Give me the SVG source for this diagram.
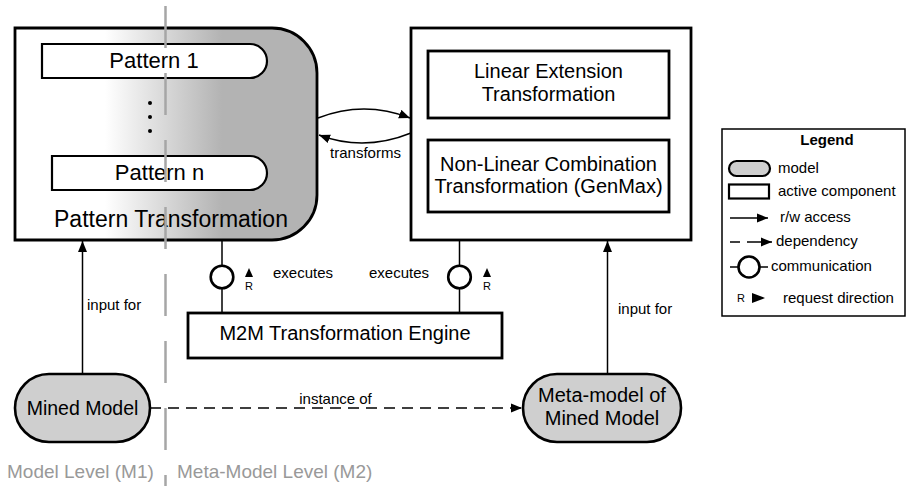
<svg xmlns="http://www.w3.org/2000/svg" width="916" height="486" viewBox="0 0 916 486">
  <style>
    text { font-family: "Liberation Sans", Arial, sans-serif; fill: #000; }
    .box { fill: #fff; stroke: #000; stroke-width: 2.8; }
    .pat { fill: #fff; stroke: #000; stroke-width: 2.2; }
    .model { fill: #cfcfcf; stroke: #000; stroke-width: 2.6; }
    .line { fill: none; stroke: #000; stroke-width: 1.5; }
    .dash { fill: none; stroke: #000; stroke-width: 1.5; stroke-dasharray: 11 7; }
    .port { fill: #fff; stroke: #000; stroke-width: 2.6; }
    .lbl { font-size: 15px; }
    .big { font-size: 20px; }
    .lvl { font-size: 19px; fill: #999; }
    .leg { font-size: 15px; }
    .r { font-size: 11px; text-anchor: middle; }
  </style>
  <defs>
    <linearGradient id="shade" gradientUnits="userSpaceOnUse" x1="105" y1="0" x2="222" y2="0">
      <stop offset="0" stop-color="#ffffff"/>
      <stop offset="1" stop-color="#b3b3b3"/>
    </linearGradient>
    <marker id="head" markerUnits="userSpaceOnUse" markerWidth="12" markerHeight="10" refX="11" refY="5" orient="auto">
      <path d="M0,0.5 L11,5 L0,9.5 Z" fill="#000"/>
    </marker>
  </defs>

  <!-- model with its patterns -->
  <g id="pattern-transformation">
    <path d="M15,28 H272 A45,45 0 0 1 317,73 V195 A45,45 0 0 1 272,240 H15 Z" fill="url(#shade)" stroke="#000" stroke-width="2.8"/>
    <text x="171" y="227" font-size="23" text-anchor="middle">Pattern Transformation</text>
  </g>
  <g id="pattern-1">
    <path class="pat" d="M42,44 H250 A17,17 0 0 1 250,78 H42 Z"/>
    <text x="154" y="68" font-size="22" text-anchor="middle">Pattern 1</text>
  </g>
  <g id="pattern-ellipsis">
    <circle cx="150" cy="103" r="2"/>
    <circle cx="150" cy="117" r="2"/>
    <circle cx="150" cy="131" r="2"/>
  </g>
  <g id="pattern-n">
    <path class="pat" d="M52,156 H250 A17,17 0 0 1 250,190 H52 Z"/>
    <text x="159.5" y="180" font-size="22" text-anchor="middle">Pattern n</text>
  </g>

  <!-- transformation component -->
  <g id="transformations">
    <rect class="box" x="411" y="28" width="280" height="212"/>
  </g>
  <g id="linear-extension">
    <rect class="box" x="428" y="51" width="241" height="67"/>
    <text class="big" x="548.5" y="78" text-anchor="middle">Linear Extension</text>
    <text class="big" x="548.5" y="101" text-anchor="middle">Transformation</text>
  </g>
  <g id="non-linear-combination">
    <rect class="box" x="428" y="140" width="241" height="72"/>
    <text class="big" x="548.5" y="171" text-anchor="middle">Non-Linear Combination</text>
    <text class="big" x="548.5" y="193" text-anchor="middle">Transformation (GenMax)</text>
  </g>

  <g id="m2m-engine">
    <rect class="box" x="188" y="313" width="314" height="45"/>
    <text class="big" x="345" y="340" text-anchor="middle">M2M Transformation Engine</text>
  </g>

  <g id="mined-model">
    <rect class="model" x="15" y="374" width="135" height="68" rx="34" ry="34"/>
    <text x="82.5" y="415" font-size="19.5" text-anchor="middle">Mined Model</text>
  </g>
  <g id="meta-model">
    <rect class="model" x="523" y="374" width="158" height="68" rx="34" ry="34"/>
    <text class="big" x="602" y="401.5" text-anchor="middle">Meta-model of</text>
    <text class="big" x="602" y="425" text-anchor="middle">Mined Model</text>
  </g>

  <g id="connectors">
    <!-- input for -->
    <line class="line" x1="82.5" y1="374" x2="82.5" y2="241" marker-end="url(#head)"/>
    <text class="lbl" x="87" y="310">input for</text>
    <line class="line" x1="607.5" y1="374" x2="607.5" y2="241" marker-end="url(#head)"/>
    <text class="lbl" x="618" y="314">input for</text>
    <!-- transforms -->
    <path class="line" d="M318,118 Q364,100 410,118" marker-end="url(#head)"/>
    <path class="line" d="M411,133 Q364,152 319,135" marker-end="url(#head)"/>
    <text class="lbl" x="365.5" y="158" text-anchor="middle">transforms</text>
    <!-- instance of -->
    <line class="dash" x1="150" y1="408" x2="522" y2="408" marker-end="url(#head)"/>
    <text class="lbl" x="335.5" y="404" text-anchor="middle">instance of</text>
    <!-- executes, left -->
    <line class="line" x1="222" y1="240" x2="222" y2="313"/>
    <circle class="port" cx="222" cy="277" r="11.3"/>
    <polygon points="245,277 253,277 249,268"/>
    <text class="r" x="249" y="290">R</text>
    <text class="lbl" x="273" y="278">executes</text>
    <!-- executes, right -->
    <line class="line" x1="459.5" y1="240" x2="459.5" y2="313"/>
    <circle class="port" cx="459.5" cy="277" r="11.3"/>
    <polygon points="483,277 491,277 487,268"/>
    <text class="r" x="487" y="290">R</text>
    <text class="lbl" x="369" y="278">executes</text>
  </g>

  <!-- level separator -->
  <g id="levels">
    <line x1="165.5" y1="6" x2="165.5" y2="486" stroke="#a6a6a6" stroke-width="2.5" stroke-dasharray="42 25"/>
    <text class="lvl" x="7" y="478">Model Level (M1)</text>
    <text class="lvl" x="177" y="478">Meta-Model Level (M2)</text>
  </g>

  <g id="legend">
    <rect x="722" y="129" width="183" height="187" fill="#fff" stroke="#000" stroke-width="1.5"/>
    <text x="827" y="145" font-size="15" font-weight="bold" text-anchor="middle">Legend</text>
    <rect x="729" y="161" width="41" height="15" rx="7.5" ry="7.5" fill="#cfcfcf" stroke="#000" stroke-width="2.2"/>
    <text class="leg" x="778" y="173">model</text>
    <rect x="729" y="184.5" width="40" height="14" fill="#fff" stroke="#000" stroke-width="2.2"/>
    <text class="leg" x="778" y="196">active component</text>
    <line class="line" x1="730" y1="218" x2="768" y2="218" marker-end="url(#head)"/>
    <text class="leg" x="780" y="222">r/w access</text>
    <line class="line" x1="730" y1="242" x2="740" y2="242"/>
    <line class="line" x1="747" y1="242" x2="772" y2="242" marker-end="url(#head)"/>
    <text class="leg" x="776" y="246">dependency</text>
    <line class="line" x1="730" y1="267" x2="768" y2="267"/>
    <circle class="port" cx="749" cy="267" r="10.5"/>
    <text class="leg" x="771" y="271">communication</text>
    <text class="r" x="741" y="302">R</text>
    <polygon points="752,293 752,303 765,298"/>
    <text class="leg" x="783" y="303">request direction</text>
  </g>
</svg>
